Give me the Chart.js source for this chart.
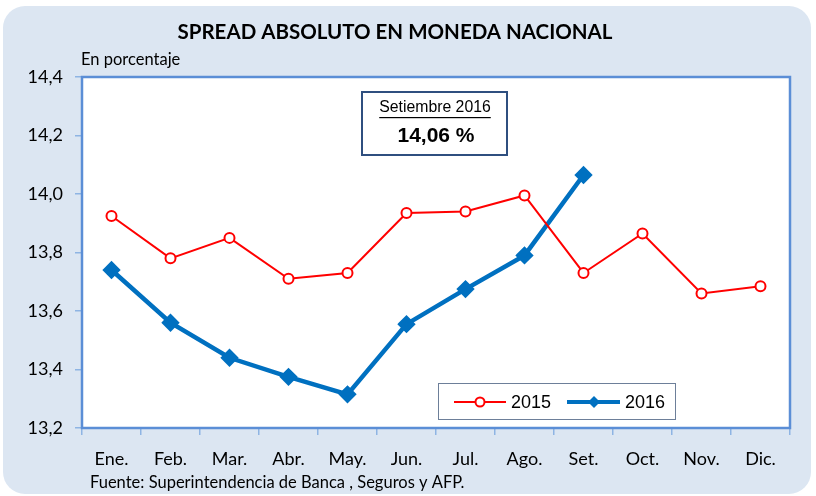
<!DOCTYPE html>
<html>
<head>
<meta charset="utf-8">
<script src="https://cdn.jsdelivr.net/npm/chart.js@4"></script>
<style>
  body { margin: 0; background: #fff; }
  #wrap { position: relative; width: 816px; height: 496px; }
  #bg { position: absolute; left: 3px; top: 6px; width: 808px; height: 488px;
        background: #dce6f2; border-radius: 22px; }
  canvas { position: absolute; left: 0; top: 0; }
</style>
</head>
<body>
<div id="wrap">
  <div id="bg"></div>
  <canvas id="myChart" width="816" height="496"></canvas>
</div>
<script>
const months = ["Ene.", "Feb.", "Mar.", "Abr.", "May.", "Jun.", "Jul.", "Ago.", "Set.", "Oct.", "Nov.", "Dic."];
const spread2015 = [13.925, 13.78, 13.85, 13.71, 13.73, 13.935, 13.94, 13.995, 13.73, 13.865, 13.66, 13.685];
const spread2016 = [13.74, 13.56, 13.44, 13.375, 13.315, 13.555, 13.675, 13.79, 14.065];
const titleText = "SPREAD ABSOLUTO EN MONEDA NACIONAL";
const unitText = "En porcentaje";
const sourceText = "Fuente: Superintendencia de Banca , Seguros y AFP.";
const boxTitle = "Setiembre 2016";
const boxValue = "14,06 %";

const ctx = document.getElementById("myChart");

// fondo blanco, borde del area, titulos, recuadro y leyenda
const extras = {
  id: "extras",
  beforeDatasetsDraw(chart) {
    const c = chart.ctx, a = chart.chartArea;
    c.save();
    c.fillStyle = "#ffffff";
    c.fillRect(a.left, a.top, a.right - a.left, a.bottom - a.top);
    c.strokeStyle = "#5b8ed6";
    c.lineWidth = 2.5;
    c.strokeRect(a.left, a.top, a.right - a.left, a.bottom - a.top);
    c.restore();
  },
  afterDraw(chart) {
    const c = chart.ctx;
    c.save();
    c.fillStyle = "#000";
    c.textBaseline = "middle";
    c.textAlign = "center";
    c.font = "bold 20.5px Lato";
    c.fillText(titleText, 395, 32);
    c.textAlign = "left";
    c.font = "16.5px Lato";
    c.fillText(unitText, 81, 60);
    c.fillText(sourceText, 90, 483);

    // recuadro Setiembre
    c.fillStyle = "#fff";
    c.fillRect(362, 92, 145, 63);
    c.strokeStyle = "#2f4f7f";
    c.lineWidth = 2;
    c.strokeRect(362, 92, 145, 63);
    c.fillStyle = "#000";
    c.textAlign = "center";
    c.font = "15.8px 'Liberation Sans'";
    c.fillText(boxTitle, 435, 108);
    const w = c.measureText(boxTitle).width;
    c.fillRect(435 - w / 2, 117, w, 1.2);
    c.font = "bold 21px 'Liberation Sans'";
    c.fillText(boxValue, 436, 136);

    // leyenda
    c.fillStyle = "#fff";
    c.fillRect(438, 383, 237, 36);
    c.strokeStyle = "#6d7f99";
    c.lineWidth = 1;
    c.strokeRect(438.5, 383.5, 237, 36);
    c.strokeStyle = "#ff0000";
    c.lineWidth = 2;
    c.beginPath(); c.moveTo(454, 402); c.lineTo(506, 402); c.stroke();
    c.beginPath(); c.arc(480, 402, 4.5, 0, Math.PI * 2);
    c.fillStyle = "#fff"; c.fill(); c.stroke();
    c.strokeStyle = "#0070c0";
    c.lineWidth = 4;
    c.beginPath(); c.moveTo(567, 402); c.lineTo(620, 402); c.stroke();
    c.fillStyle = "#0070c0";
    c.beginPath(); c.moveTo(594, 396); c.lineTo(600, 402); c.lineTo(594, 408); c.lineTo(588, 402); c.closePath(); c.fill();
    c.fillStyle = "#000";
    c.textAlign = "left";
    c.font = "18px 'Liberation Sans'";
    c.fillText("2015", 511, 403);
    c.fillText("2016", 625, 403);
    c.restore();
  }
};

new Chart(ctx, {
  type: "line",
  data: {
    labels: months,
    datasets: [
      {
        label: "2015",
        data: spread2015,
        borderColor: "#ff0000",
        borderWidth: 2,
        pointStyle: "circle",
        pointRadius: 5,
        pointBorderWidth: 2,
        pointBackgroundColor: "#ffffff",
        pointBorderColor: "#ff0000",
        tension: 0,
      },
      {
        label: "2016",
        data: spread2016,
        borderColor: "#0070c0",
        borderWidth: 4.5,
        pointStyle: "rectRot",
        pointRadius: 6,
        pointBackgroundColor: "#0070c0",
        pointBorderColor: "#0070c0",
        tension: 0,
      },
    ],
  },
  options: {
    responsive: false,
    animation: false,
    layout: { padding: { left: 0, top: 77, right: 26, bottom: 0 } },
    plugins: { legend: { display: false }, title: { display: false }, tooltip: { enabled: false } },
    scales: {
      x: {
        offset: true,
        grid: { offset: true, drawOnChartArea: false, drawTicks: true, tickLength: 7, color: "#8eb4e3", lineWidth: 1.5 },
        border: { display: false },
        ticks: { color: "#000", font: { family: "Lato", size: 18 }, padding: 13, maxRotation: 0 },
        afterFit(scale) { scale.height = 68; },
      },
      y: {
        min: 13.2,
        max: 14.4,
        grid: { drawOnChartArea: false, drawTicks: true, tickLength: 7, color: "#8eb4e3", lineWidth: 1.5 },
        border: { display: false },
        ticks: {
          stepSize: 0.2,
          color: "#000",
          font: { family: "Lato", size: 18 },
          padding: 12,
          callback: (v) => v.toFixed(1).replace(".", ","),
        },
        afterFit(scale) { scale.width = 82; },
      },
    },
  },
  plugins: [extras],
});
</script>
</body>
</html>
